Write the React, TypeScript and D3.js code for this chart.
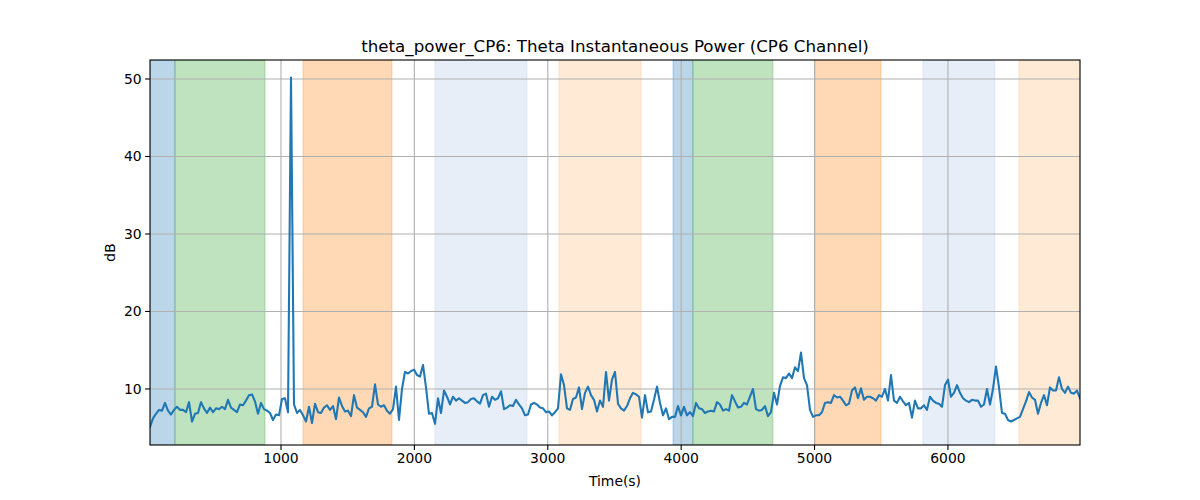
import React from "react";
import * as d3 from "d3";

// Sampling of the series (seconds)
const t0 = 18;
const dt = 22.49;

// Theta instantaneous power (dB)
const power: number[] = [
  // 18 s ..
  5.1, 6.2, 6.8, 7.3, 7.2, 8.2, 7.2, 6.7, 7.3, 7.7, 7.3, 7.3, 7.0, 8.3, 5.8, 6.8, 6.9, 8.3, 7.5, 6.9,
  7.6, 7.0, 7.5, 7.4, 7.7, 7.4, 8.6, 7.6, 7.3, 7.0, 8.0, 7.9, 8.5, 9.2, 9.3, 8.4, 6.8, 8.2, 7.4, 7.2,
  6.9, 6.0, 6.7, 6.6, 8.7, 8.8, 7.0, 50.2, 8.0, 6.9, 7.3, 6.6,
  // ~1190 s ..
  5.8, 7.7, 5.6, 8.1, 7.0, 6.9, 7.6, 7.9, 7.3, 7.8, 6.1, 8.9, 7.8, 7.1, 7.2, 6.5, 9.2, 7.6, 7.3, 7.0,
  6.4, 7.5, 7.7, 10.6, 8.0, 7.7, 7.9, 7.2, 6.8, 7.4, 10.3, 6.0, 10.0, 12.2, 12.0, 12.3, 12.5, 11.8, 11.6, 13.1,
  10.2, 6.8, 6.9, 5.5, 8.8, 6.9, 9.8, 9.0, 8.0, 9.0, 8.5, 8.8,
  // ~2360 s ..
  8.5, 8.2, 8.3, 8.7, 8.8, 8.4, 8.1, 9.2, 9.4, 7.7, 9.0, 8.6, 8.8, 9.7, 7.4, 7.6, 7.9, 7.8, 8.6, 8.0,
  7.5, 6.6, 6.7, 8.0, 8.2, 8.0, 7.6, 7.5, 7.0, 7.1, 6.6, 7.0, 7.5, 11.9, 10.5, 7.5, 7.3, 8.7, 8.9, 10.2,
  7.4, 9.5, 10.3, 9.2, 8.6, 7.1, 8.5, 7.7, 12.2, 8.5, 11.2, 12.2,
  // ~3530 s ..
  8.1, 7.5, 7.2, 7.8, 8.8, 9.5, 9.3, 9.0, 6.3, 9.2, 7.0, 7.1, 8.6, 10.3, 8.2, 6.6, 7.5, 6.1, 6.4, 6.4,
  7.8, 6.6, 7.7, 6.6, 7.0, 6.5, 8.2, 7.5, 7.4, 6.9, 7.1, 7.2, 7.1, 8.3, 8.0, 7.2, 7.4, 7.2, 9.2, 8.4,
  7.6, 7.7, 8.2, 8.0, 9.0, 10.0, 7.4, 7.2, 7.3, 7.8, 6.5,
  // ~4680 s ..
  7.0, 9.5, 8.0, 10.4, 11.5, 11.4, 12.0, 11.4, 12.8, 12.3, 14.7, 11.4, 10.5, 7.3, 6.4, 6.6, 6.6, 7.0, 8.2, 8.3,
  8.2, 9.2, 8.9, 9.0, 8.5, 7.9, 8.1, 9.8, 10.2, 8.8, 10.1, 8.6, 9.0, 9.0, 8.8, 8.5, 9.2, 9.0, 10.0, 8.5,
  11.8, 8.5, 8.2, 9.0, 8.4, 7.9, 8.2, 6.3, 8.5, 7.5, 7.5, 7.9,
  // ~5850 s ..
  7.3, 9.0, 8.5, 8.2, 8.1, 7.7, 10.5, 11.2, 9.0, 9.5, 10.5, 9.5, 8.8, 8.5, 8.3, 8.6, 8.5, 8.5, 7.7, 8.0,
  10.0, 8.0, 10.0, 12.9, 10.2, 6.9, 6.8, 6.0, 5.8, 6.0, 6.2, 6.4, 7.4, 8.4, 9.6, 8.9, 8.6, 6.8, 8.2, 9.2,
  7.9, 10.2, 9.8, 9.8, 11.5, 10.0, 9.5, 10.3, 9.5, 9.4, 9.8, 8.8,
];

// Shaded segments: [start, end, color]
const spanStarts = [18, 205, 1165, 2154, 3084, 3939, 4088, 5003, 5813, 6532];
const spanEnds = [205, 880, 1832, 2844, 3699, 4088, 4688, 5498, 6352, 6990];
const spanColors = [
  "#1f77b4", "#2ca02c", "#ff7f0e", "#aec7e8", "#ffbb78",
  "#1f77b4", "#2ca02c", "#ff7f0e", "#aec7e8", "#ffbb78",
];

const xTicks = [1000, 2000, 3000, 4000, 5000, 6000];
const yTicks = [10, 20, 30, 40, 50];
const xDomain = [18, 6990];
const yDomain = [2.77, 52.45];

const title = "theta_power_CP6: Theta Instantaneous Power (CP6 Channel)";
const xLabel = "Time(s)";
const yLabel = "dB";

export default function App() {
  const W = 1200, H = 500;
  const left = 150, right = 1080, top = 60, bottom = 445;
  const x = d3.scaleLinear().domain(xDomain).range([left, right]);
  const y = d3.scaleLinear().domain(yDomain).range([bottom, top]);
  const pts: [number, number][] = power.map((v, i) => [t0 + i * dt, v]);
  const line = d3
    .line<[number, number]>()
    .x((d) => x(d[0]))
    .y((d) => y(d[1]));
  const font = "DejaVu Sans, sans-serif";

  return (
    <svg
      width={W}
      height={H}
      style={{ position: "absolute", left: 0, top: 0, background: "#fff" }}
      fontFamily={font}
    >
      <rect x={0} y={0} width={W} height={H} fill="#fff" />
      <defs>
        <clipPath id="plotclip">
          <rect x={left} y={top} width={right - left} height={bottom - top} />
        </clipPath>
      </defs>
      <g clipPath="url(#plotclip)">
        {spanStarts.map((s, i) => (
          <rect
            key={i}
            x={x(s)}
            y={top}
            width={x(spanEnds[i]) - x(s)}
            height={bottom - top}
            fill={spanColors[i]}
            fillOpacity={0.3}
            stroke={spanColors[i]}
            strokeOpacity={0.3}
            strokeWidth={1}
          />
        ))}
        {xTicks.map((t) => (
          <line key={"gx" + t} x1={x(t)} x2={x(t)} y1={top} y2={bottom} stroke="#b0b0b0" strokeWidth={1.1} />
        ))}
        {yTicks.map((t) => (
          <line key={"gy" + t} x1={left} x2={right} y1={y(t)} y2={y(t)} stroke="#b0b0b0" strokeWidth={1.1} />
        ))}
        <path d={line(pts) || ""} fill="none" stroke="#1f77b4" strokeWidth={2.08} strokeLinejoin="round" strokeLinecap="square" />
      </g>
      <rect x={left} y={top} width={right - left} height={bottom - top} fill="none" stroke="#000" strokeWidth={1.1} />
      {xTicks.map((t) => (
        <g key={"tx" + t}>
          <line x1={x(t)} x2={x(t)} y1={bottom} y2={bottom + 4.9} stroke="#000" strokeWidth={1.1} />
          <text x={x(t)} y={bottom + 18} textAnchor="middle" fontSize={13.9} fill="#000">
            {t}
          </text>
        </g>
      ))}
      {yTicks.map((t) => (
        <g key={"ty" + t}>
          <line x1={left - 4.9} x2={left} y1={y(t)} y2={y(t)} stroke="#000" strokeWidth={1.1} />
          <text x={left - 8.4} y={y(t)} dy="0.35em" textAnchor="end" fontSize={13.9} fill="#000">
            {t}
          </text>
        </g>
      ))}
      <text x={(left + right) / 2} y={52} textAnchor="middle" fontSize={16.7} fill="#000">
        {title}
      </text>
      <text x={(left + right) / 2} y={486} textAnchor="middle" fontSize={13.9} fill="#000">
        {xLabel}
      </text>
      <text
        transform={`translate(115, ${(top + bottom) / 2}) rotate(-90)`}
        textAnchor="middle"
        fontSize={13.9}
        fill="#000"
      >
        {yLabel}
      </text>
    </svg>
  );
}
